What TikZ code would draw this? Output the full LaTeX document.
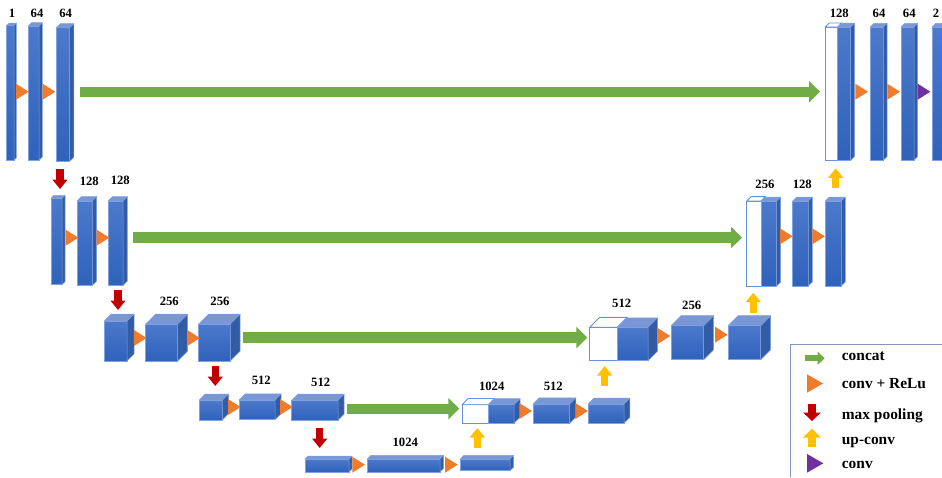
\documentclass[tikz,border=0pt]{standalone}
\usepackage{fontspec}
\setmainfont{Liberation Serif}
\usetikzlibrary{arrows.meta,shapes.geometric}
\definecolor{blockTop}{HTML}{7A96D6}
\definecolor{blockHi}{HTML}{4C79CB}
\definecolor{blockLo}{HTML}{2F62BB}
\definecolor{blockSide}{HTML}{335CA6}
\definecolor{blockEdge}{HTML}{7FA3E0}
\definecolor{whiteEdge}{HTML}{6690D8}
\definecolor{concatGreen}{HTML}{70AD47}
\definecolor{relOrange}{HTML}{F07B2B}
\definecolor{poolRed}{HTML}{C00000}
\definecolor{upYellow}{HTML}{FFC000}
\definecolor{convPurple}{HTML}{7030A0}
\definecolor{legendEdge}{HTML}{7F97BF}
% front face + top + side
\newcommand{\ublock}[6]{
	\node[front,minimum width=#4pt,minimum height=#5pt] (#1) at (#2,#3) {};
	\draw[topface] (#1.north west) -- ++(#6,-#6) -- ++(#4,0) -- (#1.north east) -- cycle;
	\draw[sideface] (#1.north east) -- ++(#6,-#6) -- ++(0,#5) -- (#1.south east) -- cycle;
}
\newcommand{\wblock}[6]{
	\node[whitefront,minimum width=#4pt,minimum height=#5pt] (#1) at (#2,#3) {};
	\draw[whitetop] (#1.north west) -- ++(#6,-#6) -- ++(#4,0) -- (#1.north east) -- cycle;
}
\begin{document}
\begin{tikzpicture}[x=1pt,y=-1pt]
	\tikzstyle{front} = [rectangle,anchor=north west,inner sep=0pt,outer sep=0pt,line width=0.7pt,draw=blockEdge,top color=blockHi,bottom color=blockLo]
	\tikzstyle{whitefront} = [rectangle,anchor=north west,inner sep=0pt,outer sep=0pt,line width=0.9pt,draw=whiteEdge,fill=white]
	\tikzstyle{topface} = [line width=0.5pt,draw=blockEdge,fill=blockTop,line join=round]
	\tikzstyle{whitetop} = [line width=0.9pt,draw=whiteEdge,fill=white,line join=round]
	\tikzstyle{sideface} = [line width=0.5pt,draw=blockEdge,fill=blockSide,line join=round]
	\tikzstyle{num} = [inner sep=0pt,font=\fontsize{12.7}{14}\selectfont\bfseries]
	\tikzstyle{legendtext} = [inner sep=0pt,anchor=west,font=\fontsize{15.4}{17}\selectfont\bfseries]
	\tikzstyle{tri} = [isosceles triangle,isosceles triangle stretches,shape border rotate=0,anchor=west,inner sep=0pt,outer sep=0pt,minimum height=12.6pt,minimum width=16pt]
	\tikzstyle{concat} = [draw=concatGreen,line width=10.4pt,-{Triangle[length=11pt,width=21pt,fill=concatGreen]}]
	\tikzstyle{pool} = [draw=poolRed,line width=7.3pt,-{Triangle[length=9.5pt,width=14.7pt,fill=poolRed]}]
	\tikzstyle{upconv} = [draw=upYellow,line width=7.3pt,-{Triangle[length=9.5pt,width=14.7pt,fill=upYellow]}]
	\useasboundingbox (0,0) rectangle (942,477);
	% contracting side
	\ublock{d11}{6.7}{25.5}{7.3}{134.8}{2.4}
	\ublock{d12}{28.3}{26}{10.7}{134.3}{3.3}
	\ublock{d13}{56.3}{27.8}{13.4}{133.5}{4.2}
	\ublock{d21}{51}{198.3}{11}{86.4}{3}
	\ublock{d22}{77}{201}{15.3}{84.4}{4.4}
	\ublock{d23}{108}{201}{15}{84.4}{4.4}
	\ublock{d31}{104.3}{321}{22.7}{40}{7}
	\ublock{d32}{145.7}{324}{32}{37}{9.8}
	\ublock{d33}{198.7}{324}{31.6}{37}{9.8}
	\ublock{d41}{199}{400.3}{23.3}{19.7}{6.3}
	\ublock{d42}{239}{400}{36}{19.7}{6.2}
	\ublock{d43}{291.7}{400.3}{46.3}{20}{6.2}
	\ublock{b1}{305}{459}{44}{13}{3}
	\ublock{b2}{367.3}{459}{72.7}{13}{3.6}
	\ublock{b3}{460.3}{459}{49.7}{11.7}{3.7}
	% expanding side
	\wblock{u4w}{462}{404.7}{26.3}{18.6}{6.2}
	\ublock{u41}{488.3}{404.7}{25.7}{18.6}{6.2}
	\ublock{u42}{533}{404}{36.7}{19.3}{6.1}
	\ublock{u43}{588}{404}{36}{19.3}{5.8}
	\wblock{u3w}{589.7}{327.3}{27.6}{33.4}{10}
	\ublock{u31}{617.3}{327.3}{30.7}{33.4}{9.5}
	\ublock{u32}{671}{325.7}{32.7}{34}{10}
	\ublock{u33}{728}{325.7}{32.7}{34}{10}
	\wblock{u2w}{746.7}{201}{14.3}{85}{4.4}
	\ublock{u21}{761}{201}{15.7}{85}{4}
	\ublock{u22}{792.7}{201}{15.6}{85}{4}
	\ublock{u23}{825.3}{201}{16}{85}{4}
	\wblock{u1w}{825.3}{27}{12.4}{133.3}{4}
	\ublock{u11}{837.7}{27}{13}{133.3}{4}
	\ublock{u12}{870.3}{27}{13}{133.3}{3.7}
	\ublock{u13}{901}{27}{13}{133.3}{3.7}
	\ublock{u14}{932}{27}{13}{133.3}{3.7}
	% conv + relu
	\foreach \n/\x/\y in {a/16/91.7,b/42.7/91.7,c/855.3/91.7,d/887.3/91.7,e/65.7/237.7,f/96.7/237.7,g/780/236.3,h/812.3/236.3,i/134/338,j/187.3/338,k/657.7/336,l/715/334.7,m/228/407,n/280/407,o/519.3/411,p/575.3/411,q/352.3/464.7,r/445/464.7}
	\node[tri,fill=relOrange] (t\n) at (\x,\y) {};
	\node[tri,fill=convPurple] (tconv) at (917.7,91.7) {};
	% skip connections
	\coordinate (s1a) at (80,91.7);
	\coordinate (s1b) at (820,91.7);
	\coordinate (s2a) at (133,237.6);
	\coordinate (s2b) at (742,237.6);
	\coordinate (s3a) at (242.7,337.6);
	\coordinate (s3b) at (587.3,337.6);
	\coordinate (s4a) at (347,408.7);
	\coordinate (s4b) at (459.3,408.7);
	\draw[concat] (s1a) -- (s1b);
	\draw[concat] (s2a) -- (s2b);
	\draw[concat] (s3a) -- (s3b);
	\draw[concat] (s4a) -- (s4b);
	% down and up
	\foreach \n/\x/\y in {a/60/169,b/118/290,c/215.3/366,d/319.7/428}{
		\coordinate (p\n a) at (\x,\y);
		\coordinate (p\n b) at (\x,\y+20);
		\draw[pool] (p\n a) -- (p\n b);
	}
	\foreach \n/\x/\y in {a/477.3/448,b/604.7/386,c/753.3/312.7,d/835.7/188.3}{
		\coordinate (q\n a) at (\x,\y);
		\coordinate (q\n b) at (\x,\y-20);
		\draw[upconv] (q\n a) -- (q\n b);
	}
	% sizes
	\foreach \n/\x/\y/\t in {a/12/13.3/1,b/37/13.3/64,c/65.7/13.3/64,d/89.3/181.7/128,e/120.3/180.7/128,f/169.3/301.7/256,g/220/301.7/256,h/261.3/380.7/512,i/320.7/382/512,j/405.3/442.7/1024,k/491.7/386/1024,l/553.3/386/512,m/621.7/303.3/512,n/691.7/305/256,o/765/184/256,p/802.3/184/128,q/839.3/13.3/128,r/879/13.3/64,s/909.3/13.3/64,u/936/13.3/2}
	\node[num] (n\n) at (\x,\y) {\t};
	% legend
	\coordinate (la) at (790.3,477);
	\coordinate (lb) at (790.3,344.7);
	\coordinate (lc) at (942,344.7);
	\draw[legendEdge,line width=1pt] (la) -- (lb) -- (lc);
	\coordinate (l1a) at (805.3,358.3);
	\coordinate (l1b) at (824.7,358.3);
	\draw[draw=concatGreen,line width=6pt,-{Triangle[length=7pt,width=12.7pt,fill=concatGreen]}] (l1a) -- (l1b);
	\node[tri,fill=relOrange,minimum height=16pt,minimum width=18.4pt] (l2) at (807,383.5) {};
	\coordinate (l3a) at (812,403.7);
	\coordinate (l3b) at (812,421);
	\draw[draw=poolRed,line width=7.6pt,-{Triangle[length=8.5pt,width=17.4pt,fill=poolRed]}] (l3a) -- (l3b);
	\coordinate (l4a) at (812,447.3);
	\coordinate (l4b) at (812,428.7);
	\draw[draw=upYellow,line width=7.6pt,-{Triangle[length=9pt,width=17.4pt,fill=upYellow]}] (l4a) -- (l4b);
	\node[tri,fill=convPurple,minimum height=16.3pt,minimum width=18.7pt] (l5) at (807,463.3) {};
	\node[legendtext] (t1) at (841.7,356) {concat};
	\node[legendtext] (t2) at (841.7,383.3) {conv + ReLu};
	\node[legendtext] (t3) at (841.7,416.3) {max pooling};
	\node[legendtext] (t4) at (841.7,442.3) {up-conv};
	\node[legendtext] (t5) at (841.7,465.3) {conv};
\end{tikzpicture}
\end{document}
